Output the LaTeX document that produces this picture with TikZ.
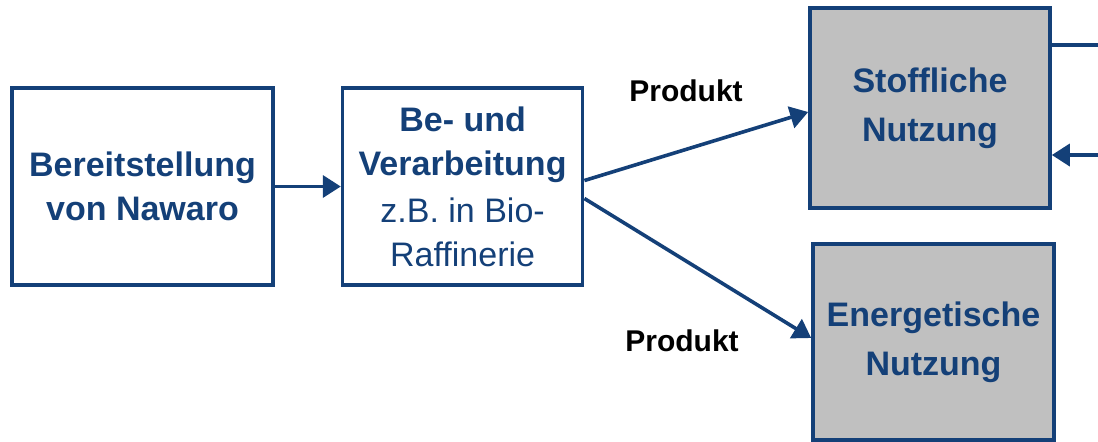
\documentclass[tikz,border=0pt]{standalone}
\usepackage{fontspec}
\setmainfont{Liberation Sans}
\usepackage{tikz}
\usetikzlibrary{positioning}
\usetikzlibrary{arrows.meta}
\definecolor{nawblue}{RGB}{20,64,120}
\definecolor{nawgray}{RGB}{192,192,192}

\begin{document}
\begin{tikzpicture}[x=0.5pt,y=-0.5pt,
		box/.style={draw=nawblue, line width=1.8pt, text=nawblue, align=center, inner sep=0pt,
			font=\fontsize{17}{22}\selectfont\bfseries},
		usebox/.style={box, fill=nawgray, font=\fontsize{17}{24.5}\selectfont\bfseries},
		flow/.style={draw=nawblue, line width=1.8pt, -{Triangle[length=9pt,width=11pt]}},
		lbl/.style={font=\fontsize{15}{18}\selectfont\bfseries, inner sep=0pt}]
		\useasboundingbox (0,0) rectangle (1098,441);
		\node [box, minimum width=130.5pt, minimum height=98.5pt] at (142.5,186.5) (bereitst) {Bereitstellung\\von Nawaro};
		\node [box, minimum width=120pt, minimum height=98.5pt, right=33pt of bereitst] (verarb) {Be- und\\Verarbeitung\\[1.5pt]{\mdseries z.B. in Bio-}\\{\mdseries Raffinerie}};
		\node [usebox, minimum width=120pt, minimum height=100pt] at (930,108) (stoffl) {Stoffliche\\Nutzung};
		\node [usebox, minimum width=120.5pt, minimum height=98pt] at (933.5,342) (energet) {Energetische\\Nutzung};
		\node [lbl] at (686,91) (produkt1) {Produkt};
		\node [lbl] at (682,341) (produkt2) {Produkt};
		\coordinate (rausA) at (1098,45);
		\coordinate (reinB) at (1098,155);
		\draw [flow] (bereitst.east) -- (verarb.west);
		\draw [flow] ([yshift=3pt]verarb.east) -- ([yshift=-2pt]stoffl.west);
		\draw [flow] ([yshift=-6pt]verarb.east) -- ([yshift=2pt]energet.west);
		\draw [draw=nawblue, line width=1.8pt] ([yshift=31.5pt]stoffl.east) -- (rausA);
		\draw [flow] (reinB) -- ([yshift=-23.5pt]stoffl.east);
		\end{tikzpicture}
\end{document}
